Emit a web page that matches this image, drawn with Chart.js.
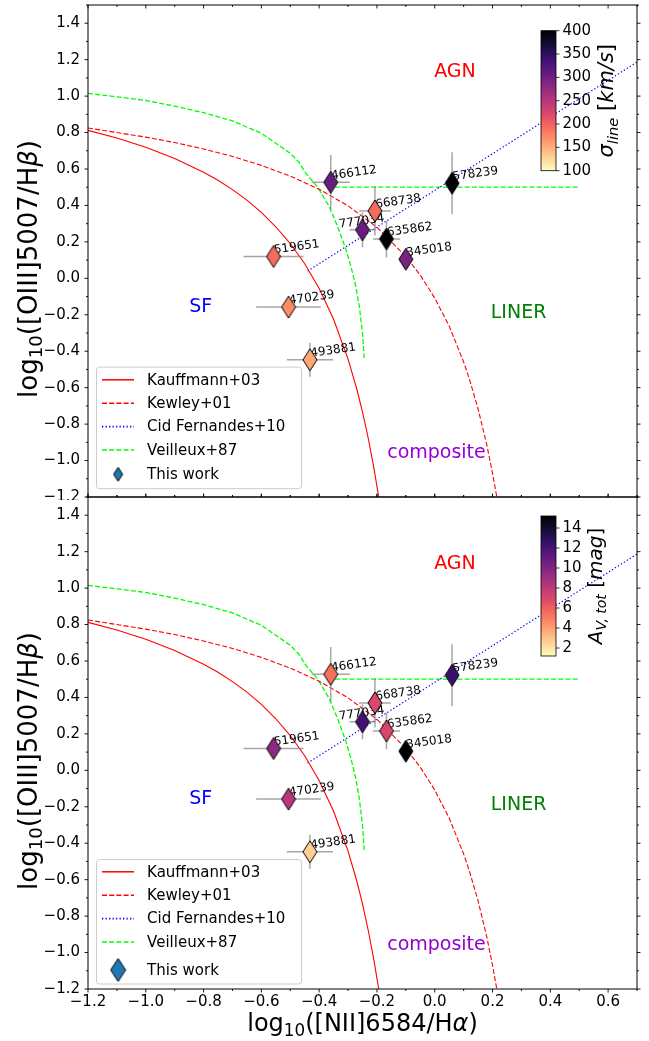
<!DOCTYPE html>
<html>
<head>
<meta charset="utf-8">
<script src="https://cdn.jsdelivr.net/npm/chart.js@4.4.1/dist/chart.umd.min.js"></script>
<style>
  html, body { margin: 0; padding: 0; background: #fff; }
  #wrap { position: relative; width: 649px; height: 1041px; overflow: hidden; }
  canvas { position: absolute; left: 0; }
  #cTop { top: 0; }
  #cBot { top: 494px; }
</style>
</head>
<body>
<div id="wrap">
  <canvas id="cTop" width="649" height="500"></canvas>
  <canvas id="cBot" width="649" height="547"></canvas>
</div>
<script>
// galaxies
const galaxyIds = ['466112', '578239', '668738', '777034', '635862', '345018', '519651', '470239', '493881'];
const nii = [-0.36, 0.06, -0.207, -0.25, -0.167, -0.10, -0.558, -0.506, -0.432];
const oiii = [0.527, 0.522, 0.37, 0.266, 0.216, 0.105, 0.12, -0.158, -0.447];
const niiErr = [0.066, 0.01, 0.055, 0.045, 0.047, 0.015, 0.104, 0.112, 0.08];
const oiiiErr = [0.15, 0.17, 0.135, 0.095, 0.1, 0.03, 0.03, 0.03, 0.093];
const sigmaLine = [307, 400, 193, 307, 400, 295, 193, 172, 154];
const avTot = [5.4, 12.4, 6.9, 12.2, 7.0, 15.2, 9.6, 8.2, 2.6];

// demarcation lines
const kauffX = [-1.2, -1.1, -1.0, -0.9, -0.8, -0.75, -0.7, -0.65, -0.6, -0.55, -0.5, -0.45, -0.4, -0.35, -0.3, -0.27, -0.25, -0.23, -0.21, -0.194];
const kauffY = [0.812, 0.770, 0.719, 0.658, 0.582, 0.538, 0.487, 0.429, 0.362, 0.283, 0.191, 0.080, -0.056, -0.225, -0.443, -0.606, -0.733, -0.879, -1.046, -1.2];
const kewleyX = [-1.2, -1.0, -0.9, -0.8, -0.7, -0.6, -0.5, -0.4, -0.3, -0.2, -0.1, -0.05, 0.0, 0.05, 0.1, 0.12, 0.15, 0.18, 0.2, 0.215];
const kewleyY = [0.825, 0.775, 0.745, 0.710, 0.669, 0.620, 0.561, 0.489, 0.398, 0.280, 0.120, 0.017, -0.108, -0.262, -0.459, -0.553, -0.716, -0.913, -1.069, -1.202];
const cidX = [-0.44, 0.7];
const cidY = [0.04, 1.187];
const veilX = [-1.2, -1.1, -1.0, -0.9, -0.8, -0.7, -0.6, -0.5, -0.47, -0.446, -0.405, -0.365, -0.336, -0.307, -0.29, -0.273, -0.261, -0.25, -0.244];
const veilY = [1.015, 0.996, 0.976, 0.945, 0.909, 0.864, 0.796, 0.686, 0.637, 0.576, 0.50, 0.393, 0.284, 0.156, 0.065, -0.045, -0.155, -0.30, -0.437];
const veilFlatX = [-0.345, 0.5];
const veilFlatY = [0.5, 0.5];

// axes
const xTicks = [-1.2, -1.0, -0.8, -0.6, -0.4, -0.2, 0.0, 0.2, 0.4, 0.6];
const yTicks = [-1.2, -1.0, -0.8, -0.6, -0.4, -0.2, 0.0, 0.2, 0.4, 0.6, 0.8, 1.0, 1.2, 1.4];
const sigmaTicks = [100, 150, 200, 250, 300, 350, 400];
const avTicks = [2, 4, 6, 8, 10, 12, 14];
const sigmaRange = [100, 400];
const avRange = [1.2, 15.2];

// region names
const regionNames = ['AGN', 'SF', 'LINER', 'composite'];
const regionX = [0.07, -0.81, 0.29, 0.006];
const regionY = [1.13, -0.16, -0.19, -0.96];
const regionColors = ['#ff0000', '#0000ff', '#008000', '#9400d3'];

const FONT = '"DejaVu Sans", sans-serif';
const MAGMA = ['#000004', '#140e36', '#3b0f70', '#641a80', '#8c2981', '#b73779', '#de4968', '#f7705c', '#fe9f6d', '#fecf92', '#fcfdbf'];

function hexRgb(h) { return [1, 3, 5].map(i => parseInt(h.substr(i, 2), 16)); }

// reversed magma: 0 -> pale, 1 -> black
function magmaR(t) {
  t = Math.min(1, Math.max(0, t));
  const u = (1 - t) * 10;
  const i = Math.min(9, Math.floor(u));
  const f = u - i;
  const a = hexRgb(MAGMA[i]), b = hexRgb(MAGMA[i + 1]);
  return 'rgb(' + a.map((v, k) => Math.round(v + (b[k] - v) * f)).join(',') + ')';
}

function diamond(fill, w, h) {
  const c = document.createElement('canvas');
  c.width = w + 2; c.height = h + 2;
  const g = c.getContext('2d');
  g.beginPath();
  g.moveTo(c.width / 2, 1);
  g.lineTo(c.width - 1, c.height / 2);
  g.lineTo(c.width / 2, c.height - 1);
  g.lineTo(1, c.height / 2);
  g.closePath();
  g.fillStyle = fill; g.fill();
  g.strokeStyle = '#000'; g.lineWidth = 1; g.stroke();
  return c;
}

function fmt(v) {
  return (v < -1e-9 ? '\u2212' : '') + Math.abs(v).toFixed(1);
}

function richText(ctx, parts, x, y, size, rot, color) {
  ctx.save();
  ctx.translate(x, y);
  ctx.rotate(rot);
  ctx.fillStyle = color || '#000';
  ctx.textBaseline = 'middle';
  ctx.textAlign = 'left';
  const fontOf = p => (p.it ? 'italic ' : '') + (p.sub ? size * 0.7 : size) + 'px ' + FONT;
  let w = 0;
  parts.forEach(p => { ctx.font = fontOf(p); w += ctx.measureText(p.t).width; });
  let cx = -w / 2;
  parts.forEach(p => {
    ctx.font = fontOf(p);
    ctx.fillText(p.t, cx, p.sub ? size * 0.28 : 0);
    cx += ctx.measureText(p.t).width;
  });
  ctx.restore();
}

const yTitle = [{t: 'log'}, {t: '10', sub: true}, {t: '([OIII]5007/H'}, {t: '\u03b2', it: true}, {t: ')'}];
const xTitle = [{t: 'log'}, {t: '10', sub: true}, {t: '([NII]6584/H'}, {t: '\u03b1', it: true}, {t: ')'}];

function makePanelPlugin(cfg) {
  return {
    id: 'panel',
    beforeDatasetDraw(chart, args) {
      if (args.index !== 0) return;
      const {ctx, scales: {x, y}} = chart;
      ctx.save();
      ctx.strokeStyle = 'rgba(128,128,128,0.7)';
      ctx.lineWidth = 1.5;
      galaxyIds.forEach((id, i) => {
        const px = x.getPixelForValue(nii[i]), py = y.getPixelForValue(oiii[i]);
        ctx.beginPath();
        ctx.moveTo(x.getPixelForValue(nii[i] - niiErr[i]), py);
        ctx.lineTo(x.getPixelForValue(nii[i] + niiErr[i]), py);
        ctx.moveTo(px, y.getPixelForValue(oiii[i] - oiiiErr[i]));
        ctx.lineTo(px, y.getPixelForValue(oiii[i] + oiiiErr[i]));
        ctx.stroke();
      });
      // names, tilted a little like in the figure
      ctx.fillStyle = '#000';
      ctx.font = '12px ' + FONT;
      ctx.textAlign = 'left';
      ctx.textBaseline = 'alphabetic';
      galaxyIds.forEach((id, i) => {
        const px = x.getPixelForValue(nii[i]), py = y.getPixelForValue(oiii[i]);
        const sh = id === '777034' ? [-23, -2] : [1, -3];
        ctx.save();
        ctx.translate(px + sh[0], py + sh[1]);
        ctx.rotate(-8 * Math.PI / 180);
        ctx.fillText(id, 0, 0);
        ctx.restore();
      });
      ctx.restore();
    },
    afterDraw(chart) {
      const {ctx, chartArea: a, scales: {x, y}} = chart;
      ctx.save();

      // region names
      ctx.font = '19px ' + FONT;
      ctx.textAlign = 'center';
      ctx.textBaseline = 'middle';
      regionNames.forEach((n, i) => {
        ctx.fillStyle = regionColors[i];
        ctx.fillText(n, x.getPixelForValue(regionX[i]), y.getPixelForValue(regionY[i]));
      });

      // frame and ticks
      ctx.strokeStyle = '#000';
      ctx.lineWidth = 1;
      ctx.strokeRect(a.left, a.top, a.right - a.left, a.bottom - a.top);
      const seg = (x1, y1, x2, y2) => { ctx.beginPath(); ctx.moveTo(x1, y1); ctx.lineTo(x2, y2); ctx.stroke(); };
      ctx.lineWidth = 0.9;
      const d = cfg.tickDirs;
      xTicks.forEach(v => {
        [[v, 3.5], [v + 0.1, 2]].forEach(([tv, len]) => {
          if (tv > 0.7001) return;
          const px = x.getPixelForValue(tv);
          seg(px, a.top, px, a.top + (d.top === 'in' ? len : -len));
          seg(px, a.bottom, px, a.bottom + (d.bottom === 'in' ? -len : len));
        });
      });
      yTicks.forEach(v => {
        [[v, 3.5], [v + 0.1, 2]].forEach(([tv, len]) => {
          const py = y.getPixelForValue(tv);
          seg(a.left, py, a.left - len, py);
          seg(a.right, py, a.right + len, py);
        });
      });

      // legend
      const lg = cfg.legend;
      const bx = a.left + 8.5, bw = 205;
      const rows = [];
      let ry = lg.first;
      for (let k = 0; k < 4; k++) { rows.push(ry); ry += 23.4; }
      rows.push(rows[3] + lg.lastGap);
      const bh = rows[4] + lg.tail;
      const by = a.bottom - lg.bottom - bh;
      ctx.beginPath();
      ctx.roundRect(bx, by, bw, bh, 3);
      ctx.fillStyle = 'rgba(255,255,255,0.8)';
      ctx.fill();
      ctx.strokeStyle = '#cccccc';
      ctx.lineWidth = 1;
      ctx.stroke();
      const ds = chart.data.datasets;
      ctx.font = '15px ' + FONT;
      ctx.textAlign = 'left';
      ctx.textBaseline = 'middle';
      [1, 2, 3, 4].forEach((di, k) => {
        const yy = by + rows[k];
        ctx.save();
        ctx.strokeStyle = ds[di].borderColor;
        ctx.lineWidth = ds[di].borderWidth + 0.4;
        ctx.setLineDash(ds[di].borderDash);
        seg(bx + 5.5, yy, bx + 37.5, yy);
        ctx.restore();
        ctx.fillStyle = '#000';
        ctx.fillText(ds[di].label, bx + 50.6, yy + 1);
      });
      const lgd = diamond('#1f77b4', lg.mw, lg.mh);
      ctx.drawImage(lgd, bx + 21.6 - lgd.width / 2, by + rows[4] - lgd.height / 2);
      ctx.fillStyle = '#000';
      ctx.fillText(ds[0].label, bx + 50.6, by + rows[4] + 1);

      // colour bar
      const cb = cfg.cbar;
      const L = 541, R = 556, T = a.top + cb.top, B = T + 140;
      const grad = ctx.createLinearGradient(0, B, 0, T);
      for (let k = 0; k <= 40; k++) grad.addColorStop(k / 40, magmaR(k / 40));
      ctx.fillStyle = grad;
      ctx.fillRect(L, T, R - L, B - T);
      ctx.strokeStyle = '#000';
      ctx.lineWidth = 0.8;
      ctx.strokeRect(L, T, R - L, B - T);
      ctx.font = '15px ' + FONT;
      ctx.fillStyle = '#000';
      ctx.textAlign = 'left';
      ctx.textBaseline = 'middle';
      cb.ticks.forEach(v => {
        const py = B - (v - cb.min) / (cb.max - cb.min) * (B - T);
        seg(R, py, R + 3.5, py);
        ctx.fillText(String(v), R + 6.5, py);
      });
      richText(ctx, cb.label, cb.labelX, (T + B) / 2, cb.labelSize, -Math.PI / 2);

      // axis titles
      richText(ctx, yTitle, 30, a.top + 264, 26, -Math.PI / 2);
      if (cfg.showX) richText(ctx, xTitle, (a.left + a.right) / 2, a.bottom + 36, 24, 0);

      ctx.restore();
    }
  };
}

function buildChart(canvasId, colorValues, cfg) {
  const cb = cfg.cbar;
  const imgs = colorValues.map(v => diamond(magmaR((v - cb.min) / (cb.max - cb.min)), 14, 22));
  const curve = (label, xs, ys, color, dash, width) => ({
    label: label,
    data: xs.map((v, i) => ({x: v, y: ys[i]})),
    showLine: true, borderColor: color, borderDash: dash, borderWidth: width,
    pointRadius: 0, fill: false, tension: 0
  });
  return new Chart(document.getElementById(canvasId), {
    type: 'scatter',
    data: {
      datasets: [
        {
          label: 'This work',
          data: nii.map((v, i) => ({x: v, y: oiii[i]})),
          pointStyle: c => imgs[c.dataIndex] || imgs[0],
          pointRadius: 11,
          showLine: false
        },
        curve('Kauffmann+03', kauffX, kauffY, '#ff0000', [], 1.1),
        curve('Kewley+01', kewleyX, kewleyY, '#ff0000', [5, 2.2], 1.1),
        curve('Cid Fernandes+10', cidX, cidY, '#0000ff', [1.3, 2.2], 1.2),
        curve('Veilleux+87', veilX, veilY, '#00ff00', [5, 2.2], 1.3),
        curve('', veilFlatX, veilFlatY, '#00ff00', [5, 2.2], 1.3)
      ]
    },
    options: {
      responsive: false,
      animation: false,
      events: [],
      layout: {autoPadding: false, padding: {top: cfg.padTop, right: 12, bottom: cfg.padBottom, left: 0}},
      plugins: {legend: {display: false}, tooltip: {enabled: false}},
      scales: {
        x: {
          type: 'linear', min: -1.2, max: 0.7, display: cfg.showX,
          afterBuildTicks: s => { s.ticks = xTicks.map(v => ({value: v})); },
          afterFit: s => { s.height = cfg.showX ? 52 : 0; },
          grid: {display: false, drawTicks: false},
          border: {display: false},
          ticks: {font: {family: 'DejaVu Sans', size: 15}, color: '#000', padding: 4, maxRotation: 0, autoSkip: false, callback: fmt}
        },
        y: {
          type: 'linear', min: -1.2, max: 1.5,
          afterBuildTicks: s => { s.ticks = yTicks.map(v => ({value: v})); },
          afterFit: s => { s.width = 88; },
          // the gap to the labels comes from tickLength (marks themselves are drawn by the plugin)
          grid: {display: false, drawTicks: true, tickLength: 8},
          border: {display: false},
          ticks: {font: {family: 'DejaVu Sans', size: 15, lineHeight: 0.01}, color: '#000', padding: 0, autoSkip: false, callback: fmt}
        }
      }
    },
    plugins: [makePanelPlugin(cfg)]
  });
}

buildChart('cTop', sigmaLine, {
  padTop: 5, padBottom: 3, showX: false,
  tickDirs: {top: 'in', bottom: 'in'},
  legend: {first: 12.7, lastGap: 24.3, tail: 14.4, bottom: 8.3, mw: 9, mh: 14},
  cbar: {min: sigmaRange[0], max: sigmaRange[1], ticks: sigmaTicks, top: 25.7, labelX: 608, labelSize: 21,
         label: [{t: '\u03c3', it: true}, {t: 'line', it: true, sub: true}, {t: ' ['}, {t: 'km/s', it: true}, {t: ']'}]}
});

buildChart('cBot', avTot, {
  padTop: 3, padBottom: 0, showX: true,
  tickDirs: {top: 'out', bottom: 'out'},
  legend: {first: 12.2, lastGap: 28, tail: 14, bottom: 5, mw: 15, mh: 23},
  cbar: {min: avRange[0], max: avRange[1], ticks: avTicks, top: 19, labelX: 597, labelSize: 20,
         label: [{t: 'A', it: true}, {t: 'V, tot', it: true, sub: true}, {t: ' ['}, {t: 'mag', it: true}, {t: ']'}]}
});
</script>
</body>
</html>
